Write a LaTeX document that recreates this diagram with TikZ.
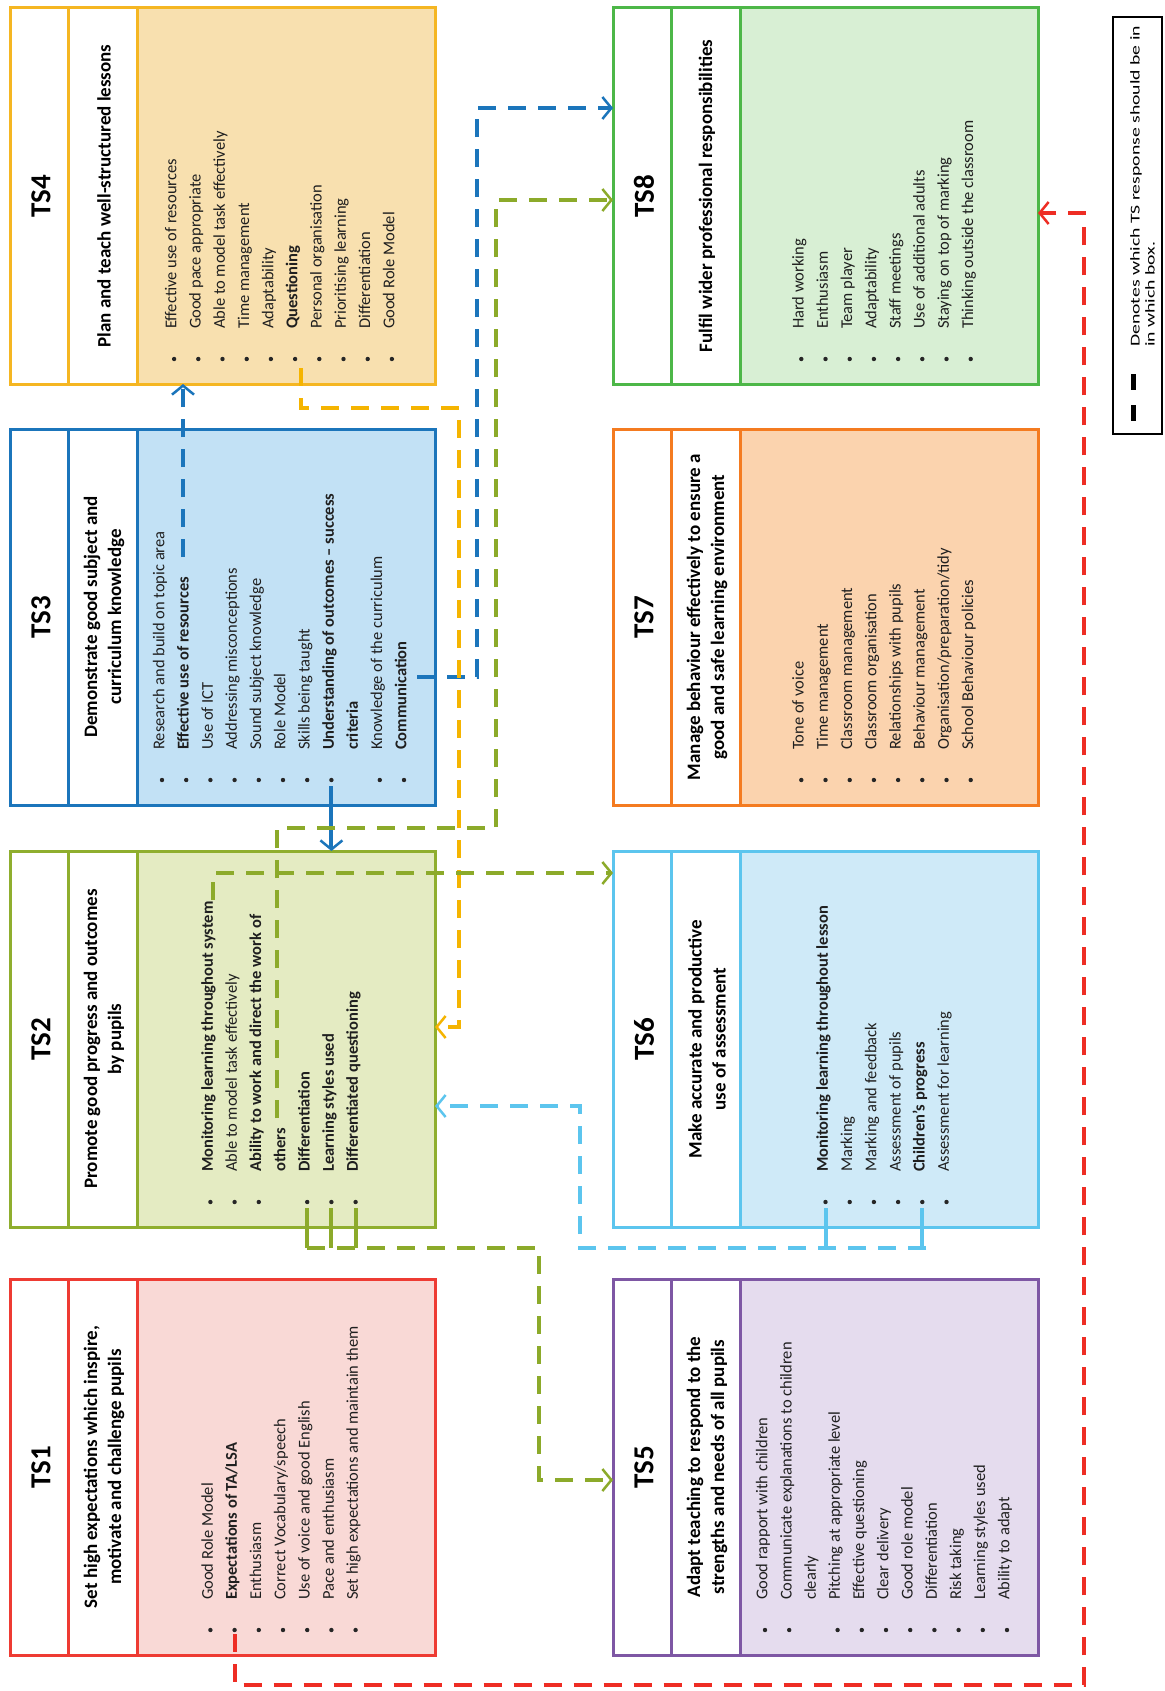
\documentclass[tikz,border=0pt]{standalone}
\usepackage{fontspec}
\setmainfont{Carlito}
\usetikzlibrary{arrows.meta,calc}
\definecolor{bA}{HTML}{EE3B33}\definecolor{fA}{HTML}{F9D9D6}
\definecolor{bB}{HTML}{8FAE2E}\definecolor{fB}{HTML}{E4EBC2}
\definecolor{bC}{HTML}{1B75BB}\definecolor{fC}{HTML}{C2E1F5}
\definecolor{bD}{HTML}{F5B622}\definecolor{fD}{HTML}{F8E0AF}
\definecolor{bE}{HTML}{7E57A4}\definecolor{fE}{HTML}{E5DCEE}
\definecolor{bF}{HTML}{5CC5EE}\definecolor{fF}{HTML}{CFEAF8}
\definecolor{bG}{HTML}{F47B20}\definecolor{fG}{HTML}{FBD3AE}
\definecolor{bH}{HTML}{4DB748}\definecolor{fH}{HTML}{D8EFD4}
\definecolor{cRed}{HTML}{EE2D24}
\definecolor{cYel}{HTML}{F5B400}
\definecolor{cGrn}{HTML}{8CAA2A}

\newcommand{\tsbox}[7]{%
  \fill[#5] (#2+127,#3) rectangle (#2+425,#3+376);
  \node[draw=#4, line width=3pt, minimum width=425pt, minimum height=376pt,
        anchor=north west, inner sep=0pt, outer sep=0pt] (#1) at (#2,#3) {};
  \draw[#4, line width=3pt] (#2+58,#3) -- (#2+58,#3+376) (#2+127,#3) -- (#2+127,#3+376);
  \node[tstitle] (#1t) at (#2+31,#3+188) {#6};
  \node[tshead] (#1h) at (#2+94,#3+188) {#7};
}
\newcommand{\tsitems}[5]{%
  \foreach \ibul/\itxt [count=\ii] in {#5} {
    \pgfmathsetmacro\xx{#2+(\ii-1-(#4-1)/2)*24.2}
    \ifnum\ibul=1 \fill[black!85] (\xx,#3-25) circle (2.2pt);\fi
    \node[tsitem] (#1-\ii) at (\xx,#3-55) {\itxt};
  }
}

\begin{document}
\begin{tikzpicture}[x=1pt,y=-1pt,
  tstitle/.style={rotate=90, font=\fontsize{29}{32}\selectfont\bfseries, inner sep=0pt},
  tshead/.style={rotate=90, font=\fontsize{19}{24}\selectfont\bfseries, align=center, inner sep=0pt},
  tsitem/.style={rotate=90, font=\fontsize{16.5}{19}\selectfont, anchor=mid west, inner sep=0pt, text=black!88},
  con/.style={line width=4pt, dash pattern=on 18pt off 12pt},
  tick/.style={line width=4pt},
  tip/.style={-{Straight Barb[length=9pt,width=22pt,line width=2.5pt]}}
]
\useasboundingbox (0,0) rectangle (1164,1691);
\fill[white] (0,0) rectangle (1164,1691);

% ---------- boxes ----------
\tsbox{ts4}{10}{8}{bD}{fD}{TS4}{Plan and teach well-structured lessons}
\tsbox{ts3}{10}{429}{bC}{fC}{TS3}{Demonstrate good subject and\\curriculum knowledge}
\tsbox{ts2}{10}{851}{bB}{fB}{TS2}{Promote good progress and outcomes\\by pupils}
\tsbox{ts1}{10}{1279}{bA}{fA}{TS1}{Set high expectations which inspire,\\motivate and challenge pupils}
\tsbox{ts8}{613}{8}{bH}{fH}{TS8}{Fulfil wider professional responsibilities}
\tsbox{ts7}{613}{429}{bG}{fG}{TS7}{Manage behaviour effectively to ensure a\\good and safe learning environment}
\tsbox{ts6}{613}{851}{bF}{fF}{TS6}{Make accurate and productive\\use of assessment}
\tsbox{ts5}{613}{1279}{bE}{fE}{TS5}{Adapt teaching to respond to the\\strengths and needs of all pupils}

% ---------- items ----------
\tsitems{ts1}{283}{1655}{7}{1/Good Role Model, 1/{\textbf{Expectations of TA/LSA}}, 1/Enthusiasm,
  1/{Correct Vocabulary/speech}, 1/Use of voice and good English, 1/Pace and enthusiasm,
  1/Set high expectations and maintain them}
\tsitems{ts2}{283}{1227}{7}{1/{\textbf{Monitoring learning throughout system}}, 1/Able to model task effectively,
  1/{\textbf{Ability to work and direct the work of}}, 0/{\textbf{others}}, 1/{\textbf{Differentiation}},
  1/{\textbf{Learning styles used}}, 1/{\textbf{Differentiated questioning}}}
\tsitems{ts3}{283}{805}{11}{1/Research and build on topic area, 1/{\textbf{Effective use of resources}},
  1/Use of ICT, 1/Addressing misconceptions, 1/Sound subject knowledge, 1/Role Model,
  1/Skills being taught, 1/{\textbf{Understanding of outcomes – success}}, 0/{\textbf{criteria}},
  1/Knowledge of the curriculum, 1/{\textbf{Communication}}}
\tsitems{ts4}{283}{384}{10}{1/Effective use of resources, 1/Good pace appropriate,
  1/Able to model task effectively, 1/Time management, 1/Adaptability, 1/{\textbf{Questioning}},
  1/Personal organisation, 1/Prioritising learning, 1/Differentiation, 1/Good Role Model}
\tsitems{ts5}{886}{1655}{11}{1/Good rapport with children, 1/Communicate explanations to children,
  0/clearly, 1/Pitching at appropriate level, 1/Effective questioning, 1/Clear delivery,
  1/Good role model, 1/Differentiation, 1/Risk taking, 1/Learning styles used, 1/Ability to adapt}
\tsitems{ts6}{886}{1227}{6}{1/{\textbf{Monitoring learning throughout lesson}}, 1/Marking,
  1/Marking and feedback, 1/Assessment of pupils, 1/{\textbf{Children’s progress}},
  1/Assessment for learning}
\tsitems{ts7}{886}{805}{8}{1/Tone of voice, 1/Time management, 1/Classroom management,
  1/Classroom organisation, 1/Relationships with pupils, 1/Behaviour management,
  1/{Organisation/preparation/tidy}, 1/School Behaviour policies}
\tsitems{ts8}{886}{384}{8}{1/Hard working, 1/Enthusiasm, 1/Team player, 1/Adaptability,
  1/Staff meetings, 1/Use of additional adults, 1/Staying on top of marking,
  1/Thinking outside the classroom}

% ---------- connector start points ----------
\coordinate (b1s) at (183,557);
\coordinate (b2s) at (417,677);
\coordinate (b3s) at (331.4,786);
\coordinate (y1s) at (301,368);
\coordinate (gAs) at (213,900);
\coordinate (gBs) at (277,1118);
\coordinate (gC1) at (307.2,1208);
\coordinate (gC2) at (331.4,1208);
\coordinate (gC3) at (355.6,1208);
\coordinate (cy1) at (825.5,1208);
\coordinate (cy2) at (922.3,1208);
\coordinate (rs) at (234.6,1634);

% ---------- connectors ----------
% TS3 -> TS4
\draw[con, bC, tip] (b1s) -- (b1s |- ts4.south);
% TS3 -> TS8
\draw[con, bC, tip] (b2s) -- (477,677) -- (477,108) -- (ts8.west |- 0,108);
% TS3 -> TS2
\draw[tick, bC, tip] (b3s) -- (b3s |- ts2.north);
% TS4 -> TS2
\draw[con, cYel, tip] (y1s) -- (301,408) -- (459,408) -- (459,1027) -- (ts2.east |- 0,1027);
% TS2 -> TS6
\draw[con, cGrn, tip] (gAs) -- (213,873) -- (ts6.west |- 0,873);
% TS2 -> TS8
\draw[con, cGrn, tip] (gBs) -- (277,828) -- (496,828) -- (496,200) -- (ts8.west |- 0,200);
% TS2 -> TS5
\draw[tick, cGrn] (gC1) -- (307.2,1248) (gC2) -- (331.4,1248) (gC3) -- (355.6,1248);
\draw[con, cGrn, tip] (307.2,1248) -- (539,1248) -- (539,1480) -- (ts5.west |- 0,1480);
% TS6 -> TS2
\draw[tick, bF] (cy1) -- (825.5,1248) (cy2) -- (922.3,1248);
\draw[con, bF, tip] (926,1248) -- (580,1248) -- (580,1106) -- (ts2.east |- 0,1106);
% TS1 -> TS8
\draw[con, cRed, tip] (rs) -- (234.6,1685) -- (1084,1685) -- (1084,213) -- (ts8.east |- 0,213);

% ---------- legend ----------
\node[draw=black, line width=1.8pt, fill=white, minimum width=49pt, minimum height=417pt,
      anchor=north west, inner sep=0pt] (legend) at (1112,16) {};
\draw[line width=5pt] (1133,374) -- (1133,390) (1133,405) -- (1133,421);
\node[rotate=90, anchor=west, inner sep=0pt, font=\fontsize{13.5}{15}\selectfont] (legtxt) at (1144,347)
  {\scalebox{1.46}[1]{\begin{tabular}{@{}l@{}}Denotes which TS response should be in\\in which box.\end{tabular}}};
\end{tikzpicture}
\end{document}
